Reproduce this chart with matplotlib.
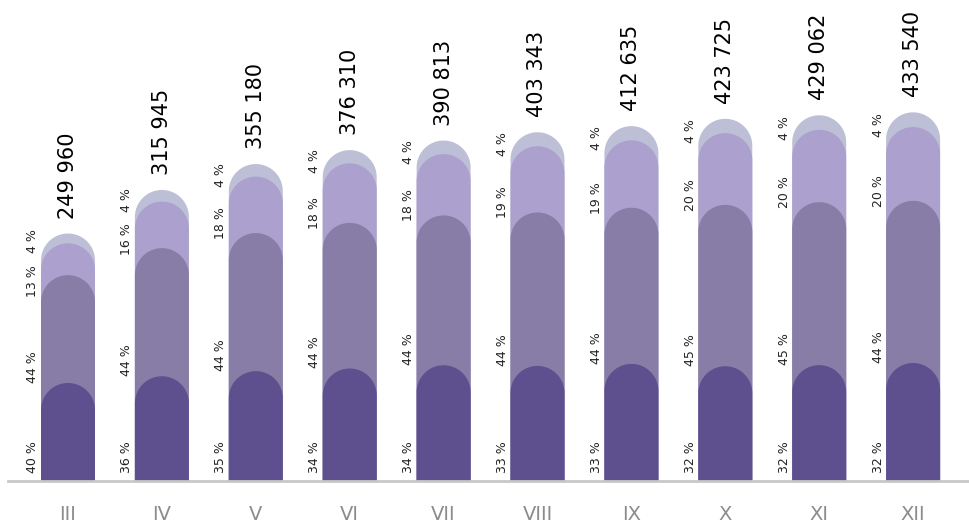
import numpy as np
import matplotlib
matplotlib.use("Agg")
import matplotlib.pyplot as plt
from matplotlib.patches import Polygon

months = ["III", "IV", "V", "VI", "VII", "VIII", "IX", "X", "XI", "XII"]
totals = [249960, 315945, 355180, 376310, 390813, 403343, 412635, 423725, 429062, 433540]
# shares of each month's total, bottom to top
share_1 = [40, 36, 35, 34, 34, 33, 33, 32, 32, 32]
share_2 = [44, 44, 44, 44, 44, 44, 44, 45, 45, 44]
share_3 = [13, 16, 18, 18, 18, 19, 19, 20, 20, 20]
share_4 = [4, 4, 4, 4, 4, 4, 4, 4, 4, 4]

colors = ["#5e508f", "#877da6", "#aba0ce", "#bdbfd6"]

W, H, DPI = 970, 524, 100
floor = -125000          # value at the axis line
upp = 1515.0             # values per pixel
step_px = 93.9           # pixels between bar centres
r_px = 27                # cap radius in pixels
ax_left, ax_bottom = 8, 43

fig = plt.figure(figsize=(W / DPI, H / DPI), dpi=DPI)
ax = fig.add_axes([ax_left / W, ax_bottom / H, (W - ax_left) / W, (H - ax_bottom) / H])
xmin = -(68 - ax_left) / step_px
ax.set_xlim(xmin, xmin + (W - ax_left) / step_px)
ax.set_ylim(floor, floor + (H - ax_bottom) * upp)

rx = r_px / step_px
ry = r_px * upp


def round_bar(x, top, color):
    t = np.linspace(np.pi, 0, 40)
    cy = top - ry
    xs = np.concatenate([[x - rx], x + rx * np.cos(t), [x + rx]])
    ys = np.concatenate([[floor], cy + ry * np.sin(t), [floor]])
    ax.add_patch(Polygon(np.column_stack([xs, ys]), closed=True, facecolor=color,
                         edgecolor="none"))


renderer = fig.canvas.get_renderer()
shares = np.array([share_1, share_2, share_3, share_4], dtype=float)
offsets = [8, 0, -6, -10]
for i, total in enumerate(totals):
    s = shares[:, i]
    cum = np.cumsum(s) / s.sum()
    tops = floor + cum * (total - floor)
    for k in range(3, -1, -1):
        round_bar(i, tops[k], colors[k])
    starts = np.concatenate([[floor], tops[:-1]])
    # percentage labels, top one first, pushed down so they do not collide
    limit = None
    for k in range(3, -1, -1):
        lab = ax.annotate(f"{int(s[k])} %", (i, starts[k]), xytext=(-35, offsets[k]),
                          textcoords="offset pixels", rotation=90, ha="center",
                          va="bottom", fontsize=9, color="#222222")
        bb = lab.get_window_extent(renderer)
        if limit is not None and bb.y1 > limit:
            lab.xyann = (-35, offsets[k] - (bb.y1 - limit))
            bb = lab.get_window_extent(renderer)
        limit = bb.y0 - 12
    ax.annotate(f"{total:,}".replace(",", " "), (i, total), xytext=(0, 15),
                textcoords="offset pixels", rotation=90, ha="center", va="bottom",
                fontsize=15, color="black")

ax.set_xticks(range(len(months)))
ax.set_xticklabels(months, fontsize=14, color="#8c8c8c")
ax.tick_params(axis="x", length=0, pad=17)
ax.set_yticks([])
for side in ["top", "right", "left"]:
    ax.spines[side].set_visible(False)
ax.spines["bottom"].set_color("#c8c8c8")
ax.spines["bottom"].set_linewidth(2)

fig.savefig("out.png", dpi=DPI)
